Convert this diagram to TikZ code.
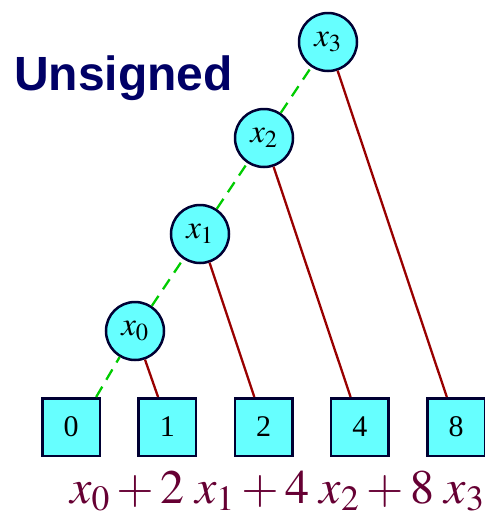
\documentclass[tikz,border=0pt]{standalone}
\usepackage{mathptmx}
\usepackage{fontspec}
\setmainfont{Liberation Serif}
\newfontfamily\titlefont{Liberation Sans}
\usepackage{tikz}
\usetikzlibrary{positioning}
\definecolor{nodecyan}{HTML}{66FFFF}
\definecolor{nodeline}{HTML}{000033}
\definecolor{dashgreen}{HTML}{00CC00}
\definecolor{weightred}{HTML}{990000}
\definecolor{titlenavy}{HTML}{000066}
\definecolor{sumplum}{HTML}{660033}

\begin{document}
\begin{tikzpicture}[x=1pt, y=-1pt,
  v/.style={circle, draw=nodeline, line width=2.5pt, fill=nodecyan,
            minimum size=58pt, inner sep=0pt, font=\fontsize{33}{35}\selectfont},
  w/.style={rectangle, draw=nodeline, line width=2.5pt, fill=nodecyan,
            minimum size=57.5pt, inner sep=0pt, font=\fontsize{30}{32}\selectfont},
  g/.style={dashgreen, line width=2.3pt, dash pattern=on 12pt off 8pt},
  r/.style={weightred, line width=2.3pt}]
\useasboundingbox (0,0) rectangle (485,520);
\node[anchor=base west, inner sep=0pt, text=titlenavy,
      font=\titlefont\bfseries\fontsize{48}{50}\selectfont] (title) at (14,90) {Unsigned};
\node[w] (b0) at (71,427) {0};
\node[w, right=36.25pt of b0] (b1) {1};
\node[w, right=36.25pt of b1] (b2) {2};
\node[w, right=36.25pt of b2] (b4) {4};
\node[w, right=36.25pt of b4] (b8) {8};
\node[v] (x0) at (135,331) {$x_0$};
\node[v] (x1) at (200,234) {$x_1$};
\node[v] (x2) at (264,138) {$x_2$};
\node[v] (x3) at (328,42) {$x_3$};
\draw[g] (b0.50)--(x0); \draw[g] (x0)--(x1); \draw[g] (x1)--(x2); \draw[g] (x2)--(x3);
\draw[r] (x0)--(b1.107); \draw[r] (x1)--(b2.107); \draw[r] (x2)--(b4.107); \draw[r] (x3)--(b8.107);
\node[anchor=base west, inner sep=0pt, text=sumplum,
      font=\fontsize{48}{50}\selectfont] (sum) at (70,503) {$x_0 + 2\;x_1 + 4\;x_2 + 8\;x_3$};
\end{tikzpicture}
\end{document}
